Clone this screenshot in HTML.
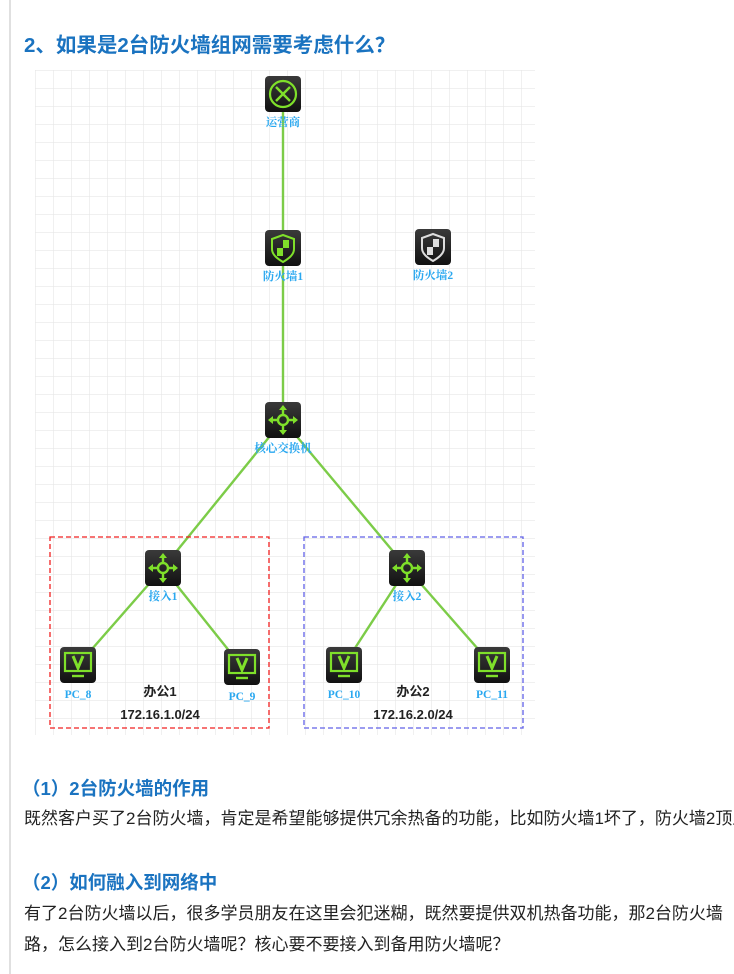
<!DOCTYPE html>
<html><head><meta charset="utf-8">
<style>
html,body{margin:0;padding:0;background:#fff;width:734px;height:974px;overflow:hidden}
svg{display:block}
.h{font-family:"Liberation Sans","Noto Sans CJK SC",sans-serif;font-weight:bold;fill:#1a73c0}
.b{font-family:"Liberation Sans","Noto Sans CJK SC",sans-serif;fill:#222}
.l{font-family:"Liberation Serif","Noto Serif CJK SC",serif;font-weight:bold;fill:#2aa8f0;font-size:11.5px}
.k{font-family:"Liberation Sans","Noto Sans CJK SC",sans-serif;font-weight:bold;fill:#222;font-size:13px}
</style></head><body>
<svg width="734" height="974" viewBox="0 0 734 974" xmlns="http://www.w3.org/2000/svg">
<defs>
<pattern id="g" x="35" y="70" width="18" height="18" patternUnits="userSpaceOnUse">
<path d="M0 0H18M0 0V18" stroke="#e6e6e6" stroke-width="1.2" fill="none"/>
</pattern>
<linearGradient id="ic" x1="0" y1="0" x2="0" y2="1"><stop offset="0" stop-color="#3a3a3a"/><stop offset="1" stop-color="#111"/></linearGradient>
<g id="box"><rect x="-18" y="-18" width="36" height="36" rx="4" fill="url(#ic)"/></g>
<g id="sw"><use href="#box"/>
<g stroke="#7fe02a" stroke-width="2.4" fill="none"><circle r="5"/><path d="M0-5V-13M0 5V13M-5 0H-13M5 0H13"/></g>
<g fill="#7fe02a"><path d="M0-15l-4 5h8zM0 15l-4-5h8zM-15 0l5-4v8zM15 0l-5-4v8z"/></g></g>
<g id="pc"><use href="#box"/>
<rect x="-13" y="-12" width="26" height="18" fill="none" stroke="#7fe02a" stroke-width="2.2"/>
<path d="M-5-9L0 3L5-9" stroke="#7fe02a" stroke-width="3" fill="none"/>
<path d="M-6 11H6" stroke="#7fe02a" stroke-width="2.4"/></g>
</defs>
<line x1="10" y1="0" x2="10" y2="974" stroke="#e0e0e0" stroke-width="2"/>
<text x="24" y="52" class="h" font-size="20.5">2、如果是2台防火墙组网需要考虑什么？</text>
<rect x="35" y="70" width="500" height="665" fill="url(#g)"/>
<g stroke="#7ccc48" stroke-width="2.4">
<line x1="283" y1="94" x2="283" y2="420"/>
<line x1="283" y1="420" x2="163" y2="568"/>
<line x1="283" y1="420" x2="407" y2="568"/>
<line x1="163" y1="568" x2="78" y2="665"/>
<line x1="163" y1="568" x2="242" y2="667"/>
<line x1="407" y1="568" x2="344" y2="665"/>
<line x1="407" y1="568" x2="492" y2="665"/>
</g>
<rect x="50" y="537" width="219" height="191" fill="none" stroke="#f02020" stroke-width="1.3" stroke-dasharray="5,3"/>
<rect x="304" y="537" width="219" height="191" fill="none" stroke="#6060e8" stroke-width="1.3" stroke-dasharray="5,3"/>
<g transform="translate(283,94)"><use href="#box"/>
<circle r="13" fill="none" stroke="#7fe02a" stroke-width="2.2"/>
<path d="M-7-7L7 7M7-7L-7 7" stroke="#7fe02a" stroke-width="2.4"/></g>
<text x="283" y="126" class="l" text-anchor="middle">运营商</text>
<g transform="translate(283,248)"><use href="#box"/>
<path d="M0-13L11-9V1C11 7 5 11 0 14C-5 11-11 7-11 1V-9Z" fill="none" stroke="#7fe02a" stroke-width="2"/>
<path d="M0-8H6V0H0ZM-6 0H0V8H-6Z" fill="#7fe02a"/></g>
<text x="283" y="280" class="l" text-anchor="middle">防火墙1</text>
<g transform="translate(433,247)"><use href="#box"/>
<path d="M0-13L11-9V1C11 7 5 11 0 14C-5 11-11 7-11 1V-9Z" fill="none" stroke="#ddd" stroke-width="2"/>
<path d="M0-8H6V0H0ZM-6 0H0V8H-6Z" fill="#ddd"/></g>
<text x="433" y="279" class="l" text-anchor="middle">防火墙2</text>
<g transform="translate(283,420)"><use href="#sw"/></g>
<text x="283" y="452" class="l" text-anchor="middle">核心交换机</text>
<g transform="translate(163,568)"><use href="#sw"/></g>
<text x="163" y="600" class="l" text-anchor="middle">接入1</text>
<g transform="translate(407,568)"><use href="#sw"/></g>
<text x="407" y="600" class="l" text-anchor="middle">接入2</text>
<g transform="translate(78,665)"><use href="#pc"/></g>
<text x="78" y="698" class="l" text-anchor="middle">PC_8</text>
<g transform="translate(242,667)"><use href="#pc"/></g>
<text x="242" y="700" class="l" text-anchor="middle">PC_9</text>
<g transform="translate(344,665)"><use href="#pc"/></g>
<text x="344" y="698" class="l" text-anchor="middle">PC_10</text>
<g transform="translate(492,665)"><use href="#pc"/></g>
<text x="492" y="698" class="l" text-anchor="middle">PC_11</text>
<text x="160" y="696" class="k" text-anchor="middle">办公1</text>
<text x="160" y="719" class="k" text-anchor="middle">172.16.1.0/24</text>
<text x="413" y="696" class="k" text-anchor="middle">办公2</text>
<text x="413" y="719" class="k" text-anchor="middle">172.16.2.0/24</text>
<text x="22" y="795" class="h" font-size="18.5">（1）2台防火墙的作用</text>
<text x="24" y="824" class="b" font-size="17">既然客户买了2台防火墙，肯定是希望能够提供冗余热备的功能，比如防火墙1坏了，防火墙2顶上</text>
<text x="22" y="889" class="h" font-size="18.5">（2）如何融入到网络中</text>
<text x="24" y="919" class="b" font-size="17">有了2台防火墙以后，很多学员朋友在这里会犯迷糊，既然要提供双机热备功能，那2台防火墙</text>
<text x="24" y="950" class="b" font-size="17">路，怎么接入到2台防火墙呢？核心要不要接入到备用防火墙呢？</text>
</svg>
</body></html>
